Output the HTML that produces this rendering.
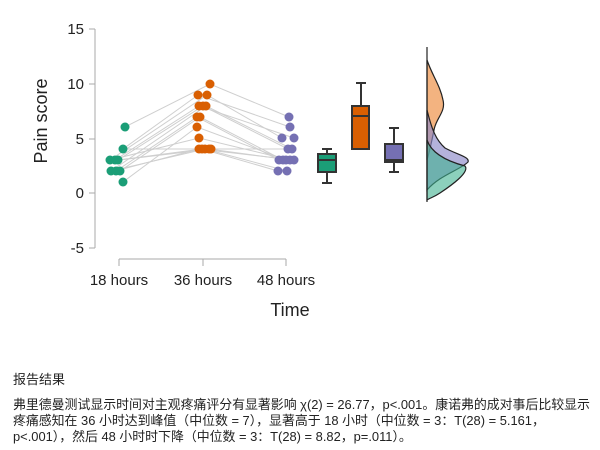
<!DOCTYPE html>
<html><head><meta charset="utf-8"><style>
body{margin:0;width:600px;height:450px;background:#fff;overflow:hidden;font-family:"Liberation Sans","Noto Sans CJK SC",sans-serif}
.t{position:absolute;left:13px;color:#222;white-space:nowrap}
</style></head><body>
<svg width="600" height="360" style="position:absolute;left:0;top:0" font-family="Liberation Sans, sans-serif">
<g stroke="#aaa" stroke-width="1" fill="none">
<line x1="95" y1="29" x2="95" y2="248"/>
<line x1="89" y1="29" x2="95" y2="29"/><line x1="89" y1="84" x2="95" y2="84"/><line x1="89" y1="139" x2="95" y2="139"/><line x1="89" y1="193" x2="95" y2="193"/><line x1="89" y1="248" x2="95" y2="248"/>
<line x1="119" y1="259" x2="286" y2="259"/><line x1="119" y1="259" x2="119" y2="266"/><line x1="203" y1="259" x2="203" y2="266"/><line x1="286" y1="259" x2="286" y2="266"/>
</g>
<g font-size="15" fill="#222" text-anchor="end">
<text x="84" y="34">15</text><text x="84" y="89">10</text><text x="84" y="144">5</text><text x="84" y="198">0</text><text x="84" y="253">-5</text>
</g>
<text transform="translate(47,121) rotate(-90)" font-size="18" fill="#222" text-anchor="middle">Pain score</text>
<g font-size="15" fill="#222" text-anchor="middle">
<text x="119" y="285">18 hours</text><text x="203" y="285">36 hours</text><text x="286" y="285">48 hours</text>
</g>
<text x="290" y="316" font-size="18" fill="#222" text-anchor="middle">Time</text>
<g stroke="#cfcfcf" stroke-width="1" fill="none">
<polyline points="125,127 210,84 289,117"/>
<polyline points="123,149 198,95 290,127"/>
<polyline points="110,160 207,95 282,138"/>
<polyline points="115,160 199,106 294,138"/>
<polyline points="118,160 203,106 288,149"/>
<polyline points="111,171 206,106 292,149"/>
<polyline points="116,171 197,117 279,160"/>
<polyline points="120,171 200,117 283,160"/>
<polyline points="123,182 197,127 286,160"/>
<polyline points="110,160 199,138 290,160"/>
<polyline points="115,171 199,149 294,160"/>
<polyline points="118,160 202,149 278,171"/>
<polyline points="111,171 205,149 287,171"/>
<polyline points="123,149 209,149 290,160"/>
<polyline points="120,160 211,149 286,149"/>
</g>
<g fill="#1b9e77">
<circle cx="125" cy="127" r="4.5"/><circle cx="123" cy="149" r="4.5"/><circle cx="110" cy="160" r="4.5"/><circle cx="115" cy="160" r="4.5"/><circle cx="118" cy="160" r="4.5"/><circle cx="111" cy="171" r="4.5"/><circle cx="116" cy="171" r="4.5"/><circle cx="120" cy="171" r="4.5"/><circle cx="123" cy="182" r="4.5"/>
</g>
<g fill="#d95f02">
<circle cx="210" cy="84" r="4.5"/><circle cx="198" cy="95" r="4.5"/><circle cx="207" cy="95" r="4.5"/><circle cx="199" cy="106" r="4.5"/><circle cx="203" cy="106" r="4.5"/><circle cx="206" cy="106" r="4.5"/><circle cx="197" cy="117" r="4.5"/><circle cx="200" cy="117" r="4.5"/><circle cx="197" cy="127" r="4.5"/><circle cx="199" cy="138" r="4.5"/><circle cx="199" cy="149" r="4.5"/><circle cx="202" cy="149" r="4.5"/><circle cx="205" cy="149" r="4.5"/><circle cx="209" cy="149" r="4.5"/><circle cx="211" cy="149" r="4.5"/>
</g>
<g fill="#7570b3">
<circle cx="289" cy="117" r="4.5"/><circle cx="290" cy="127" r="4.5"/><circle cx="282" cy="138" r="4.5"/><circle cx="294" cy="138" r="4.5"/><circle cx="288" cy="149" r="4.5"/><circle cx="292" cy="149" r="4.5"/><circle cx="279" cy="160" r="4.5"/><circle cx="283" cy="160" r="4.5"/><circle cx="286" cy="160" r="4.5"/><circle cx="290" cy="160" r="4.5"/><circle cx="294" cy="160" r="4.5"/><circle cx="278" cy="171" r="4.5"/><circle cx="287" cy="171" r="4.5"/>
</g>
<g stroke="#333" stroke-width="2">
<line x1="327" y1="149" x2="327" y2="183"/><line x1="322" y1="149" x2="332" y2="149"/><line x1="322" y1="183" x2="332" y2="183"/>
<rect x="318" y="154" width="18" height="18" fill="#1b9e77"/><line x1="318" y1="160" x2="336" y2="160"/>
<line x1="361" y1="83" x2="361" y2="106"/><line x1="356" y1="83" x2="366" y2="83"/>
<rect x="352" y="106" width="17" height="43" fill="#d95f02"/><line x1="352" y1="116" x2="369" y2="116"/>
<line x1="394" y1="128" x2="394" y2="172"/><line x1="389" y1="128" x2="399" y2="128"/><line x1="389" y1="172" x2="399" y2="172"/>
<rect x="385" y="144" width="18" height="18" fill="#7570b3"/><line x1="385" y1="160" x2="403" y2="160"/>
</g>
<g stroke="#222" stroke-width="1.2">
<path d="M427,60 C432,75 440,85 443,100 C446,112 436,118 434,130 C432,140 430,150 427,160 Z" fill="#f0a060" fill-opacity="0.8"/>
<path d="M427,110 C432,130 436,140 445,148 C458,155 470,157 468,162 C460,170 440,175 427,190 Z" fill="#8c88c8" fill-opacity="0.65"/>
<path d="M427,140 C432,155 450,162 465,166 C470,172 452,185 440,193 C434,197 430,198 427,200 Z" fill="#40b090" fill-opacity="0.6"/>
<line x1="427" y1="47" x2="427" y2="202"/>
</g>
</svg>
<div class="t" style="top:369px;font-size:13px">报告结果</div>
<div class="t" style="top:397px;font-size:12.9px;line-height:16px">弗里德曼测试显示时间对主观疼痛评分有显著影响 χ(2) = 26.77，p&lt;.001。康诺弗的成对事后比较显示<br>疼痛感知在 36 小时达到峰值（中位数 = 7），显著高于 18 小时（中位数 = 3：T(28) = 5.161，<br>p&lt;.001），然后 48 小时时下降（中位数 = 3：T(28) = 8.82，p=.011）。</div>
</body></html>
